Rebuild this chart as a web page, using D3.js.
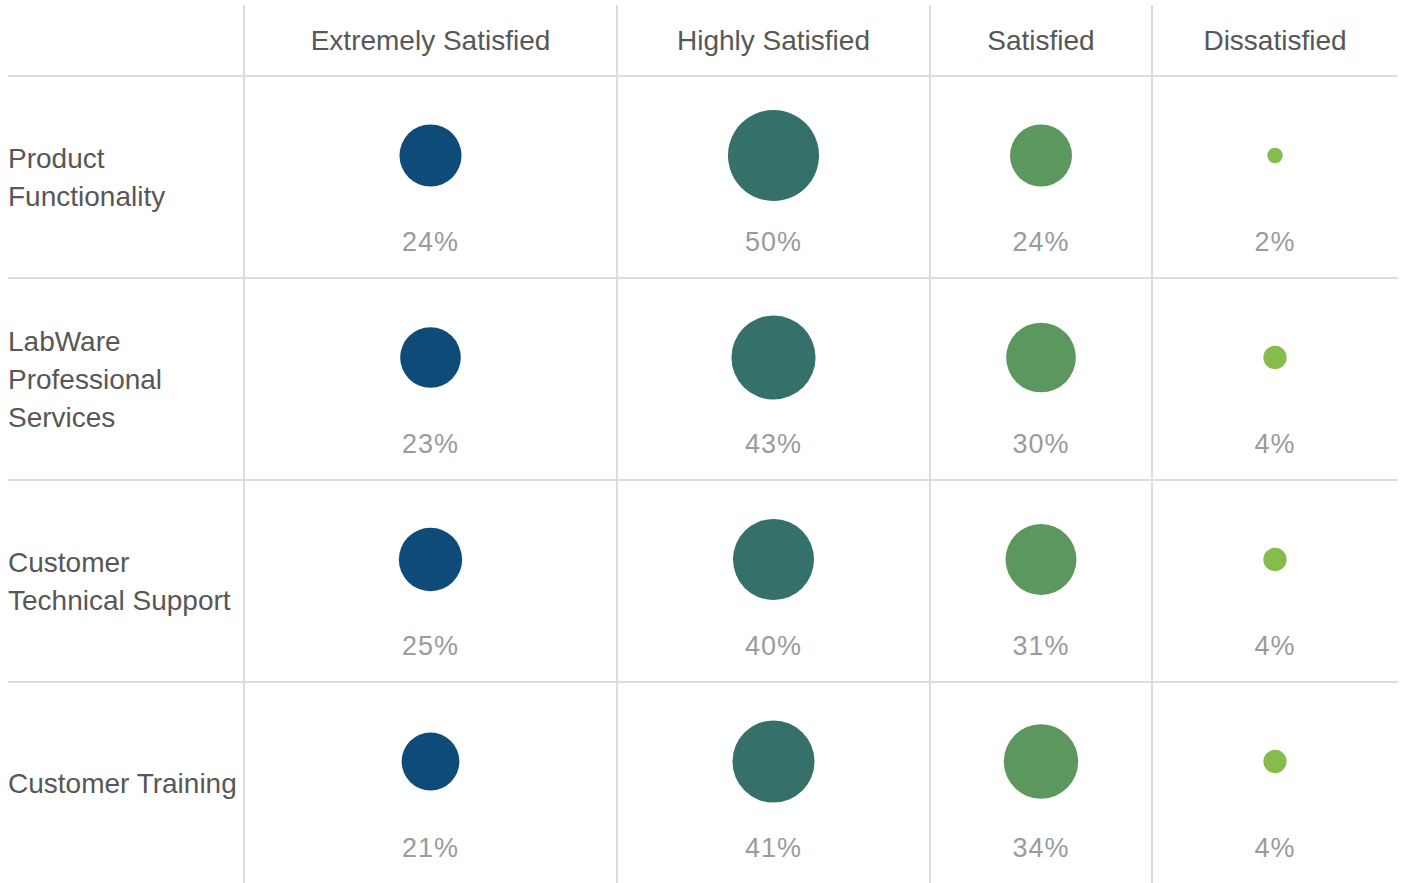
<!DOCTYPE html>
<html>
<head>
<meta charset="utf-8">
<script src="https://cdn.jsdelivr.net/npm/d3@7"></script>
<style>
  body { margin: 0; background: #fff; }
  text { font-family: "Helvetica Neue", Helvetica, "Liberation Sans", Arial, sans-serif; }
</style>
</head>
<body>
<div class="chart"></div>
<script>
const svgWidth = 1403
const svgHeight = 883

// data
const categories = [
  "Product Functionality",
  "LabWare Professional Services",
  "Customer Technical Support",
  "Customer Training"
]
const levels = ["Extremely Satisfied", "Highly Satisfied", "Satisfied", "Dissatisfied"]
const extremelySatisfied = [24, 23, 25, 21]
const highlySatisfied = [50, 43, 40, 41]
const satisfied = [24, 30, 31, 34]
const dissatisfied = [2, 4, 4, 4]

const colors = ["#0f4b78", "#35706a", "#5c985e", "#86bc4b"]

// layout
const left = 8
const right = 1398
const labelColWidth = 236
const colWidths = [373, 313, 222, 246]
const headerTop = 5
const headerBottom = 76
const rowHeight = 202

let svg = d3
  .select(".chart")
  .append("svg")
  .attr("width", svgWidth)
  .attr("height", svgHeight)

let table = categories.map((c, i) => ({
  category: c,
  values: [extremelySatisfied[i], highlySatisfied[i], satisfied[i], dissatisfied[i]]
}))

// column edges (columns are not equal width)
let colEdges = [left + labelColWidth]
colWidths.forEach(w => colEdges.push(colEdges[colEdges.length - 1] + w))

let xCenter = d3
  .scaleOrdinal()
  .domain(levels)
  .range(levels.map((d, i) => (colEdges[i] + colEdges[i + 1]) / 2))

let y = d3
  .scaleBand()
  .domain(categories)
  .range([headerBottom, headerBottom + rowHeight * categories.length])

// radius grows with sqrt of value, small offset so tiny values stay small
let r = d3
  .scaleSqrt()
  .domain([0.065, 50])
  .range([0, 45.5])

// grid lines
let grid = svg.append("g").attr("stroke", "#dddddd").attr("stroke-width", 2)

grid
  .selectAll("line.h")
  .data(categories)
  .enter()
  .append("line")
  .attr("class", "h")
  .attr("x1", left)
  .attr("x2", right)
  .attr("y1", d => y(d))
  .attr("y2", d => y(d))

grid
  .selectAll("line.v")
  .data(colEdges.slice(0, -1))
  .enter()
  .append("line")
  .attr("class", "v")
  .attr("x1", d => d)
  .attr("x2", d => d)
  .attr("y1", headerTop)
  .attr("y2", svgHeight)

// column headers
svg
  .selectAll("text.header")
  .data(levels)
  .enter()
  .append("text")
  .attr("class", "header")
  .attr("x", d => xCenter(d))
  .attr("y", 49.5)
  .attr("text-anchor", "middle")
  .attr("font-size", 28)
  .attr("fill", "#575757")
  .text(d => d)

// rows
let rows = svg
  .selectAll("g.row")
  .data(table)
  .enter()
  .append("g")
  .attr("class", "row")
  .attr("transform", d => `translate(0, ${y(d.category)})`)

// row labels, wrapped to the label column
const lineHeight = 38
rows.each(function(d) {
  let g = d3.select(this)
  let label = g
    .append("text")
    .attr("font-size", 28)
    .attr("fill", "#575757")
  let words = d.category.split(" ")
  let lines = []
  let line = []
  let probe = label.append("tspan")
  words.forEach(w => {
    line.push(w)
    probe.text(line.join(" "))
    if (probe.node().getComputedTextLength() > 236 && line.length > 1) {
      line.pop()
      lines.push(line.join(" "))
      line = [w]
    }
  })
  lines.push(line.join(" "))
  probe.remove()

  let mid = y.bandwidth() / 2
  let firstCenter = mid - ((lines.length - 1) * lineHeight) / 2
  label
    .selectAll("tspan")
    .data(lines)
    .enter()
    .append("tspan")
    .attr("x", left)
    .attr("y", (l, i) => firstCenter + i * lineHeight + 10)
    .text(l => l)
})

let cells = rows
  .selectAll("g.cell")
  .data(d => d.values.map((v, i) => ({ level: levels[i], value: v, i: i })))
  .enter()
  .append("g")
  .attr("class", "cell")
  .attr("transform", d => `translate(${xCenter(d.level)}, 0)`)

cells
  .append("circle")
  .attr("cx", 0)
  .attr("cy", 79.5)
  .attr("r", d => r(d.value))
  .attr("fill", d => colors[d.i])

cells
  .append("text")
  .attr("x", 0)
  .attr("y", 175)
  .attr("text-anchor", "middle")
  .attr("font-size", 27)
  .attr("letter-spacing", 1)
  .attr("fill", "#9b9b9b")
  .text(d => d.value + "%")
</script>
</body>
</html>
